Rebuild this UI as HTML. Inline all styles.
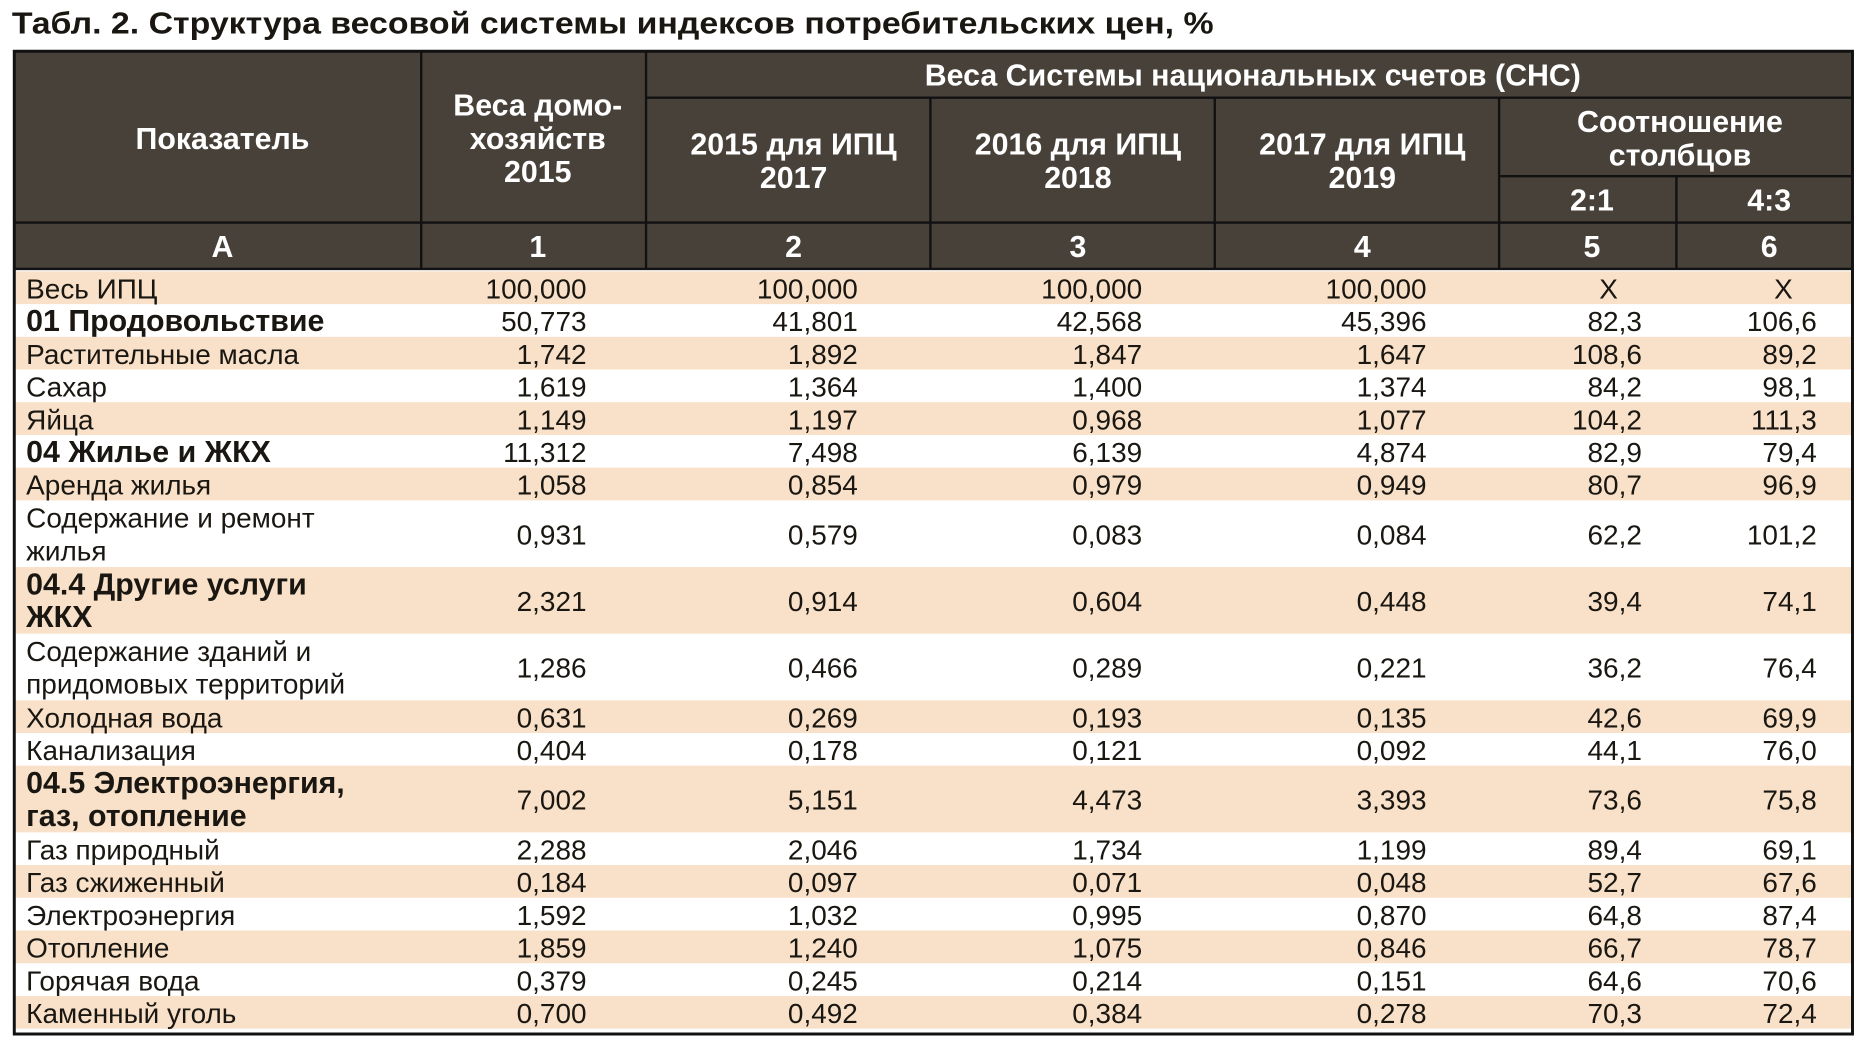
<!DOCTYPE html>
<html><head><meta charset="utf-8"><style>
html,body{margin:0;padding:0;background:#fff;}
svg{display:block;}
text{font-family:"Liberation Sans","Noto Sans CJK SC",sans-serif;}
</style></head>
<body>
<svg id="tbl" width="1862" height="1046" viewBox="0 0 1565 879" xmlns="http://www.w3.org/2000/svg">
<text x="10" y="28" font-size="26" font-weight="bold" fill="#1a1712" textLength="1010" lengthAdjust="spacingAndGlyphs">Табл. 2. Структура весовой системы индексов потребительских цен, %</text>
<g id="header">
<rect x="12" y="43" width="1545" height="183" fill="#47413a"/>
<g stroke="#111" stroke-width="2" fill="none">
<line x1="354" y1="43" x2="354" y2="226"/>
<line x1="543" y1="43" x2="543" y2="226"/>
<line x1="543" y1="82" x2="1557" y2="82"/>
<line x1="782" y1="82" x2="782" y2="226"/>
<line x1="1021" y1="82" x2="1021" y2="226"/>
<line x1="1260" y1="82" x2="1260" y2="226"/>
<line x1="1260" y1="148" x2="1557" y2="148"/>
<line x1="1409" y1="148" x2="1409" y2="226"/>
<line x1="12" y1="187" x2="1557" y2="187"/>
<line x1="12" y1="226" x2="1557" y2="226"/>
</g>
<g fill="#fff" font-weight="bold" font-size="25.5" text-anchor="middle">
<text x="187" y="125">Показатель</text>
<text x="452" y="97">Веса домо-</text>
<text x="452" y="125">хозяйств</text>
<text x="452" y="153">2015</text>
<text x="1053" y="72">Веса Системы национальных счетов (СНС)</text>
<text x="667" y="130">2015 для ИПЦ</text>
<text x="667" y="158">2017</text>
<text x="906" y="130">2016 для ИПЦ</text>
<text x="906" y="158">2018</text>
<text x="1145" y="130">2017 для ИПЦ</text>
<text x="1145" y="158">2019</text>
<text x="1412" y="111">Соотношение</text>
<text x="1412" y="139">столбцов</text>
<text x="1338" y="177">2:1</text>
<text x="1487" y="177">4:3</text>
<text x="187" y="216">А</text>
<text x="452" y="216">1</text>
<text x="667" y="216">2</text>
<text x="906" y="216">3</text>
<text x="1145" y="216">4</text>
<text x="1338" y="216">5</text>
<text x="1487" y="216">6</text>
</g>
</g>
<g id="body"></g>
<rect x="12" y="43" width="1545" height="826" fill="none" stroke="#111" stroke-width="2.5"/>
</svg>
<script>
const labels=[["Весь ИПЦ"],["01 Продовольствие"],["Растительные масла"],["Сахар"],["Яйца"],["04 Жилье и ЖКХ"],["Аренда жилья"],["Содержание и ремонт","жилья"],["04.4 Другие услуги","ЖКХ"],["Содержание зданий и","придомовых территорий"],["Холодная вода"],["Канализация"],["04.5 Электроэнергия,","газ, отопление"],["Газ природный"],["Газ сжиженный"],["Электроэнергия"],["Отопление"],["Горячая вода"],["Каменный уголь"]];
const boldRows=[1,5,8,12];
const col1=["100,000","50,773","1,742","1,619","1,149","11,312","1,058","0,931","2,321","1,286","0,631","0,404","7,002","2,288","0,184","1,592","1,859","0,379","0,700"];
const col2=["100,000","41,801","1,892","1,364","1,197","7,498","0,854","0,579","0,914","0,466","0,269","0,178","5,151","2,046","0,097","1,032","1,240","0,245","0,492"];
const col3=["100,000","42,568","1,847","1,400","0,968","6,139","0,979","0,083","0,604","0,289","0,193","0,121","4,473","1,734","0,071","0,995","1,075","0,214","0,384"];
const col4=["100,000","45,396","1,647","1,374","1,077","4,874","0,949","0,084","0,448","0,221","0,135","0,092","3,393","1,199","0,048","0,870","0,846","0,151","0,278"];
const col5=["X","82,3","108,6","84,2","104,2","82,9","80,7","62,2","39,4","36,2","42,6","44,1","73,6","89,4","52,7","64,8","66,7","64,6","70,3"];
const col6=["X","106,6","89,2","98,1","111,3","79,4","96,9","101,2","74,1","76,4","69,9","76,0","75,8","69,1","67,6","87,4","78,7","70,6","72,4"];
const NS="http://www.w3.org/2000/svg";
const body=document.getElementById('body');
const cols=[col1,col2,col3,col4,col5,col6];
const colRight=[493,721,960,1199,1380,1527];
const colNames=['households-2015','sna-2015','sna-2016','sna-2017','ratio-2-1','ratio-4-3'];
let y=228;
labels.forEach((lab,i)=>{
  const h=lab.length>1?56:27.5;
  const g=document.createElementNS(NS,'g');
  
  
  if(i%2===0){const r=document.createElementNS(NS,'rect');
    r.setAttribute('x',12);r.setAttribute('y',y);r.setAttribute('width',1545);r.setAttribute('height',h);r.setAttribute('fill','#f8e1c8');g.appendChild(r);}
  const bold=boldRows.includes(i);
  const cy=y+h/2;
  lab.forEach((ln,k)=>{
    const t=document.createElementNS(NS,'text');
    
    
    t.setAttribute('x',22);
    const ly=lab.length>1?cy-14+k*27.5:cy;
    t.setAttribute('y',ly+9);
    t.setAttribute('font-size',bold?25.5:23.5);
    if(bold)t.setAttribute('font-weight','bold');
    t.setAttribute('fill','#1a1712');
    t.textContent=ln;g.appendChild(t);
  });
  cols.forEach((c,j)=>{
    const t=document.createElementNS(NS,'text');
    
    
    t.setAttribute('x',colRight[j]);
    t.setAttribute('y',cy+9);
    t.setAttribute('text-anchor',c[i]==='X'?'middle':'end');
    if(c[i]==='X')t.setAttribute('x',colRight[j]-28);
    t.setAttribute('font-size',23.5);
    t.setAttribute('fill','#1a1712');
    t.textContent=c[i];g.appendChild(t);
  });
  body.appendChild(g);
  y+=h;
});
</script>
</body></html>
